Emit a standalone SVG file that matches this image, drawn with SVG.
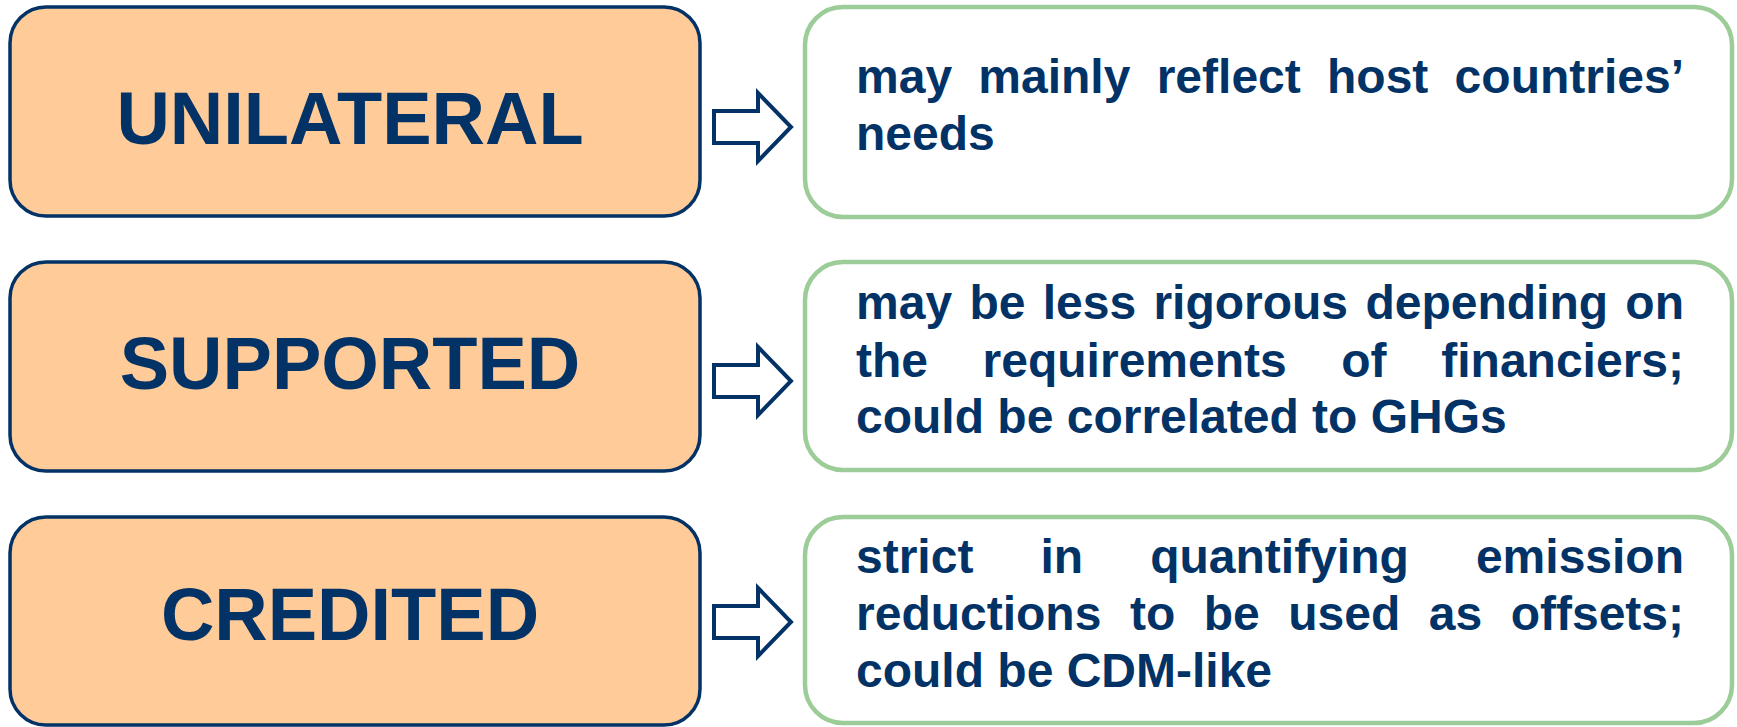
<svg xmlns="http://www.w3.org/2000/svg" width="1737" height="727" viewBox="0 0 1737 727">
<style>
.lbox{fill:#FFCB99;stroke:#033366;stroke-width:3.5}
.rbox{fill:#FFFFFF;stroke:#9CCC97;stroke-width:4.5}
.lbl{font-family:"Liberation Sans",Arial,sans-serif;font-weight:bold;font-size:74px;fill:#033366;text-anchor:middle}
.txt{font-family:"Liberation Sans",Arial,sans-serif;font-weight:bold;font-size:48px;fill:#033366}
.end{text-anchor:end}
.arr{fill:#FFFFFF;stroke:#033366;stroke-width:4;stroke-linejoin:miter}
</style>
<defs>
<path id="arrowShape" d="M714,-16 L758,-16 L758,-34 L791,0 L758,34 L758,16 L714,16 Z"/>
</defs>
<rect width="1737" height="727" fill="#FFFFFF"/>

<g id="unilateral">
<rect class="lbox" x="10" y="7" width="690" height="209" rx="36" ry="36"/>
<text class="lbl" x="350" y="144">UNILATERAL</text>
</g>
<g id="supported">
<rect class="lbox" x="10" y="262" width="690" height="209" rx="36" ry="36"/>
<text class="lbl" x="350" y="389">SUPPORTED</text>
</g>
<g id="credited">
<rect class="lbox" x="10" y="517" width="690" height="208" rx="36" ry="36"/>
<text class="lbl" x="350" y="640">CREDITED</text>
</g>

<g id="desc-unilateral">
<rect class="rbox" x="805" y="7" width="927" height="210" rx="38" ry="38"/>
<text class="txt" y="93"><tspan x="856">may</tspan><tspan x="978.3">mainly</tspan><tspan x="1156.7">reflect</tspan><tspan x="1327">host</tspan></text>
<text class="txt end" x="1684" y="93">countries’</text>
<text class="txt" x="856" y="150">needs</text>
</g>
<g id="desc-supported">
<rect class="rbox" x="805" y="262" width="927" height="208" rx="38" ry="38"/>
<text class="txt" y="319"><tspan x="856">may</tspan><tspan x="969.4">be</tspan><tspan x="1042.7">less</tspan><tspan x="1153.4">rigorous</tspan><tspan x="1365.4">depending</tspan></text>
<text class="txt end" x="1684" y="319">on</text>
<text class="txt" y="377"><tspan x="856">the</tspan><tspan x="982.6">requirements</tspan><tspan x="1341.3">of</tspan></text>
<text class="txt end" x="1684" y="377">financiers;</text>
<text class="txt" x="856" y="433">could be correlated to GHGs</text>
</g>
<g id="desc-credited">
<rect class="rbox" x="805" y="517" width="927" height="206" rx="38" ry="38"/>
<text class="txt" y="573"><tspan x="856">strict</tspan><tspan x="1040.4">in</tspan><tspan x="1150.2">quantifying</tspan></text>
<text class="txt end" x="1684" y="573">emission</text>
<text class="txt" y="630"><tspan x="856">reductions</tspan><tspan x="1129.9">to</tspan><tspan x="1203.7">be</tspan><tspan x="1288.2">used</tspan><tspan x="1428.8">as</tspan></text>
<text class="txt end" x="1684" y="630">offsets;</text>
<text class="txt" x="856" y="687">could be CDM-like</text>
</g>

<g id="connectors">
<use href="#arrowShape" class="arr" transform="translate(0,127)"/>
<use href="#arrowShape" class="arr" transform="translate(0,381)"/>
<use href="#arrowShape" class="arr" transform="translate(0,622)"/>
</g>
</svg>
